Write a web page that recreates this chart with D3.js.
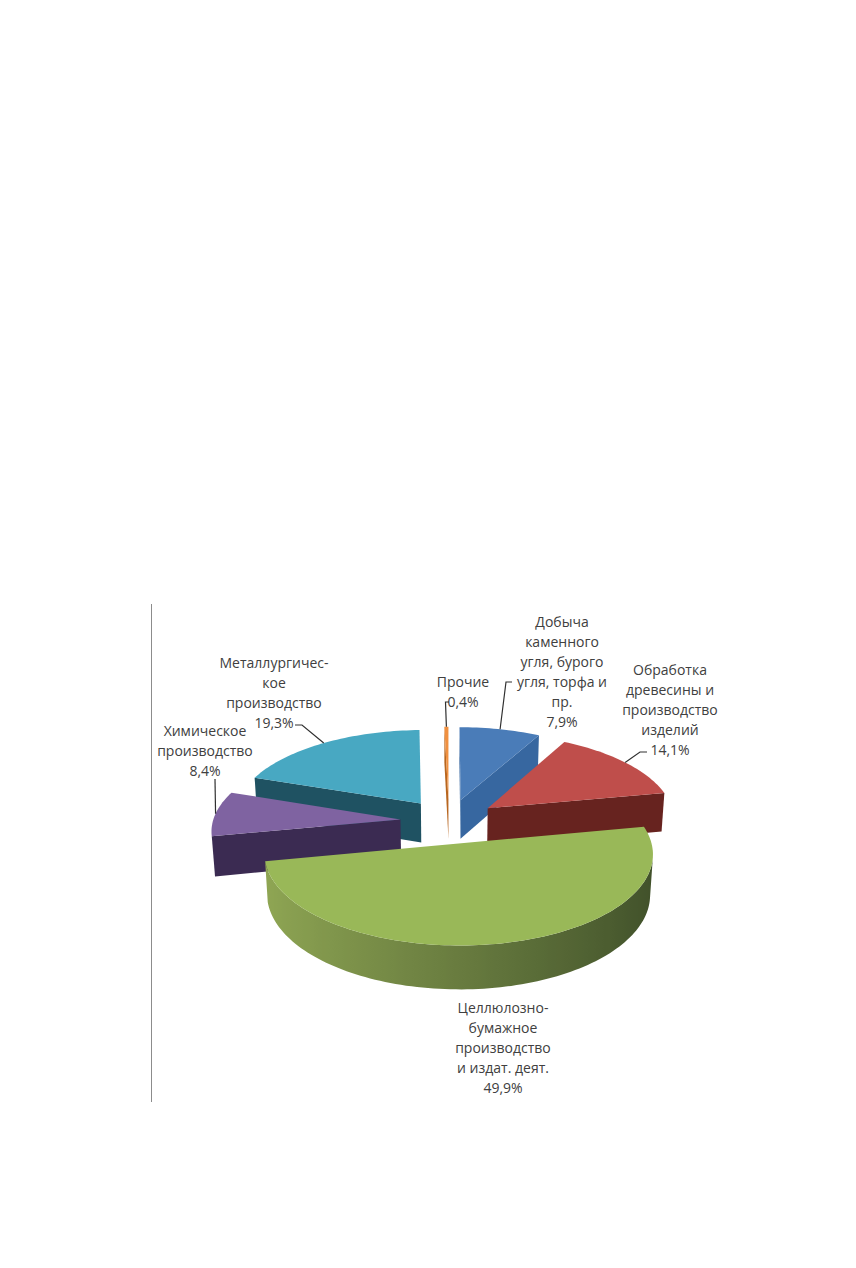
<!DOCTYPE html>
<html><head><meta charset="utf-8">
<script src="https://cdn.jsdelivr.net/npm/d3@7"></script>
<style>html,body{margin:0;padding:0;background:#fff;} svg{display:block}</style>
</head><body>
<svg id="chart" width="856" height="1268"></svg>
<script>
// ---- data ----
const categories = [
  "Добыча каменного угля, бурого угля, торфа и пр.",
  "Обработка древесины и производство изделий",
  "Целлюлозно-бумажное производство и издат. деят.",
  "Химическое производство",
  "Металлургическое производство",
  "Прочие"
];
const values = [7.9, 14.1, 49.9, 8.4, 19.3, 0.4];
const labelNames = [
  ["Добыча", "каменного", "угля, бурого", "угля, торфа и", "пр."],
  ["Обработка", "древесины и", "производство", "изделий"],
  ["Целлюлозно-", "бумажное", "производство", "и издат. деят."],
  ["Химическое", "производство"],
  ["Металлургичес-", "кое", "производство"],
  ["Прочие"]
];

// ---- styles ----
const topColors  = ["#4a7cb8", "#bf4e4b", "#99b858", "#7f63a1", "#48a8c2", "#f09040"];
const cutColors  = ["#3767a0", "#67231f", "#6a7f3e", "#3b2b52", "#1f5262", "#b8661f"];
const sideLight  = ["#4670a8", "#8a3431", "#90a754", "#5e4a7e", "#3a8ca3", "#d88a45"];
const sideDark   = ["#2c5385", "#5c1d1b", "#40502a", "#35264b", "#1d4b58", "#a65c1c"];
// label layout (screen px): centre x, first line y, leader elbow/end
const labelLayout = [
  {x: 562, y: 622, elbow: [506, 682], end: [512, 682]},
  {x: 670, y: 670, elbow: [640, 752], end: [647, 752]},
  {x: 503, y: 1008, elbow: null, end: null},
  {x: 205, y: 731, elbow: [215, 779], end: null},
  {x: 274, y: 663, elbow: [302, 725], end: [295, 725]},
  {x: 463, y: 682, elbow: [445.5, 702], end: [449, 702]}
];

// ---- 3D projection ----
const cam = {L: 8, s: 0.455, F: 1500, cx: 449, cy: 821};
cam.c = Math.sqrt(1 - cam.s * cam.s);
const explode = 0.26, thick = 0.24;
const camPos = [0, cam.L * cam.s, -cam.L * cam.c];
function project(p) {
  const [x, h, z] = p;
  const depth = cam.L + z * cam.c - h * cam.s;
  const up = h * cam.c + z * cam.s;
  return [cam.cx + cam.F * x / depth, cam.cy - cam.F * up / depth, depth];
}
function visible(n, p) {
  return n[0] * (camPos[0] - p[0]) + n[1] * (camPos[1] - p[1]) + n[2] * (camPos[2] - p[2]) > 0;
}

const svg = d3.select("#chart");
const defs = svg.append("defs");
const line = d3.line();
const pie = d3.pie().sort(null).value(d => d).startAngle(0).endAngle(2 * Math.PI);
const arcs = pie(values);
const mid = q => [d3.mean(q, d => d[0]), d3.mean(q, d => d[1]), d3.mean(q, d => d[2])];
const P2 = p => project(p).slice(0, 2);

const slices = arcs.map((a, i) => {
  const a0 = a.startAngle, a1 = a.endAngle, b = (a0 + a1) / 2;
  const ox = explode * Math.sin(b), oz = explode * Math.cos(b);
  const pt = (phi, r, h) => [ox + r * Math.sin(phi), h, oz + r * Math.cos(phi)];
  const N = Math.max(1, Math.ceil((a1 - a0) / (Math.PI / 120)));
  const angs = d3.range(N + 1).map(k => a0 + (a1 - a0) * k / N);
  const shade = d3.scaleLinear().domain([-1, 1]).range([sideLight[i], sideDark[i]]).interpolate(d3.interpolateRgb);
  const faces = [];
  const apexT = pt(0, 0, 0), apexB = pt(0, 0, -thick);
  const sw = [apexT, pt(a0, 1, 0), pt(a0, 1, -thick), apexB];
  const ew = [apexT, pt(a1, 1, 0), pt(a1, 1, -thick), apexB];
  if (visible([-Math.cos(a0), 0, Math.sin(a0)], mid(sw))) faces.push({d: line(sw.map(P2)) + "Z", fill: cutColors[i]});
  if (visible([Math.cos(a1), 0, -Math.sin(a1)], mid(ew))) faces.push({d: line(ew.map(P2)) + "Z", fill: cutColors[i]});
  // outer wall: contiguous runs of visible segments, one path each with gradient
  let runs = [], cur = null;
  for (let k = 0; k < N; k++) {
    const t0 = angs[k], t1 = angs[k + 1], tm = (t0 + t1) / 2;
    const q = [pt(t0, 1, 0), pt(t1, 1, 0), pt(t1, 1, -thick), pt(t0, 1, -thick)];
    const vis = visible([Math.sin(tm), 0, Math.cos(tm)], mid(q));
    if (vis) { if (!cur) { cur = [t0]; runs.push(cur); } cur.push(t1); }
    else cur = null;
  }
  runs.forEach((run, r) => {
    const topPts = run.map(t => P2(pt(t, 1, 0)));
    const botPts = run.map(t => P2(pt(t, 1, -thick))).reverse();
    const xs = topPts.map(p => p[0]);
    const xmin = d3.min(xs), xmax = d3.max(xs);
    const id = `wall-${i}-${r}`;
    const gx = d3.scaleLinear().domain([xmin, xmax]).range([0, 1]);
    const stops = run.map((t, k) => ({o: gx(xs[k]), c: shade(Math.sin(t))})).sort((p, q) => p.o - q.o);
    const grad = defs.append("linearGradient").attr("id", id).attr("gradientUnits", "userSpaceOnUse")
      .attr("x1", xmin).attr("x2", xmax === xmin ? xmin + 1 : xmax).attr("y1", 0).attr("y2", 0);
    stops.forEach(s => grad.append("stop").attr("offset", s.o).attr("stop-color", s.c));
    faces.push({d: line(topPts.concat(botPts)) + "Z", fill: `url(#${id})`});
  });
  faces.push({d: line([apexT].concat(angs.map(t => pt(t, 1, 0))).map(P2)) + "Z", fill: topColors[i]});
  return {i, faces, depth: project(apexT)[2], anchor: P2(pt(b, 1, 0))};
});

const gPie = svg.append("g");
slices.slice().sort((p, q) => q.depth - p.depth).forEach(s => {
  const g = gPie.append("g").attr("class", "slice").attr("data-name", categories[s.i]);
  s.faces.forEach(f => g.append("path").attr("d", f.d).attr("fill", f.fill));
});

// frame line at left
svg.append("line").attr("x1", 151.5).attr("x2", 151.5).attr("y1", 604).attr("y2", 1102)
  .attr("stroke", "#8c8c8c").attr("stroke-width", 1);

// labels
const fmt = v => d3.format(".1f")(v).replace(".", ",") + "%";
const gLab = svg.append("g").attr("font-family", "'Open Sans', 'Liberation Sans', sans-serif")
  .attr("font-size", 14).attr("fill", "#404040").attr("text-anchor", "middle");
slices.forEach(s => {
  const lay = labelLayout[s.i];
  const lines = labelNames[s.i].concat([fmt(values[s.i])]);
  const t = gLab.append("text");
  lines.forEach((ln, k) => {
    t.append("tspan").attr("x", lay.x).attr("y", lay.y + k * 20 + 5).text(ln);
  });
  if (lay.elbow) {
    const pts = [s.anchor, lay.elbow];
    if (lay.end) pts.push(lay.end);
    svg.append("path").attr("d", line(pts)).attr("fill", "none")
      .attr("stroke", "#303030").attr("stroke-width", 1.2);
  }
});
</script>
</body></html>
